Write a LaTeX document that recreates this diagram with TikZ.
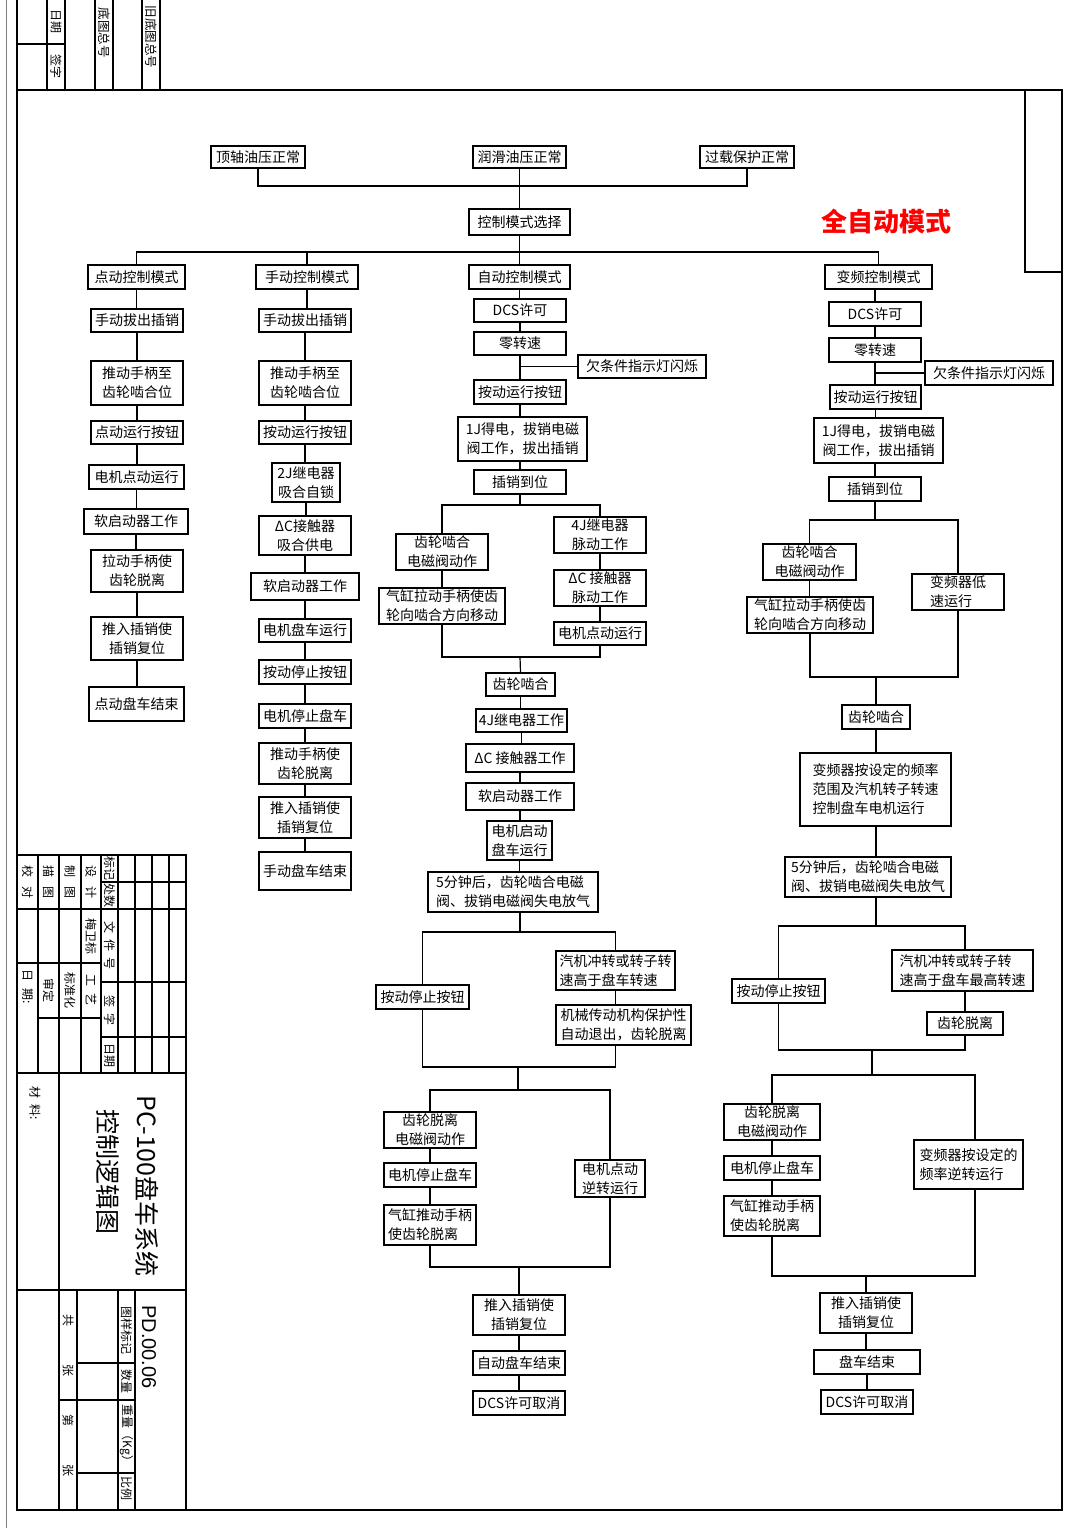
\documentclass[tikz,border=0pt]{standalone}
\usepackage{fontspec}
\setmainfont{Noto Sans CJK SC}
\newfontfamily\lsans{Liberation Sans}
\tikzset{
  box/.style={draw, line width=1.3pt, inner sep=0pt, align=center, font=\fontsize{14}{19}\selectfont},
  ln/.style={line width=1.2pt},
  tb/.style={line width=1.1pt},
  rtxt/.style={rotate=-90, inner sep=0pt, font=\fontsize{12}{13}\selectfont}
}
\newcommand\bx[7][]{\node[box,#1,minimum width={(#5-#3)*1pt},minimum height={(#6-#4)*1pt}] (#2) at ({(#3+#5)/2},{(#4+#6)/2}) {#7};}
\begin{document}
\begin{tikzpicture}[x=1pt,y=-1pt]
\useasboundingbox (0,0) rectangle (1080,1528);
% page frame
\draw[line width=2.5pt] (17,90) rectangle (1062,1510);
\draw[line width=1.5pt] (1025,90) -- (1025,272) -- (1062,272);
\draw[line width=0.6pt, gray] (6,0) -- (6,1528);
% top-left table
\foreach \x in {17,47,65,95,113,142,160} \draw[tb] (\x,0) -- (\x,90);
\draw[tb] (17,44) -- (65,44);
\node[rtxt] (tl1) at (56,22) {日期};
\node[rtxt] (tl2) at (56,67) {签字};
\node[rtxt, font=\fontsize{12.5}{13}\selectfont] (tl3) at (104,33) {底图总号};
\node[rtxt, font=\fontsize{12.5}{13}\selectfont] (tl4) at (151,37) {旧底图总号};
% title block
\draw[line width=1.5pt] (17,855) -- (186,855) -- (186,1510);
\foreach \x in {38,59,81,101,118,135,152,169} \draw[tb] (\x,855) -- (\x,1073);
\draw[tb] (101,882) -- (186,882);
\draw[tb] (17,909) -- (186,909);
\draw[tb] (17,963) -- (101,963);
\draw[tb] (101,982) -- (186,982);
\draw[tb] (38,1018) -- (101,1018);
\draw[tb] (101,1037) -- (186,1037);
\draw[tb] (17,1073) -- (186,1073);
\draw[tb] (59,1073) -- (59,1510);
\draw[tb] (17,1290) -- (186,1290);
\draw[tb] (77,1290) -- (77,1510);
\draw[tb] (118,1290) -- (118,1510);
\draw[tb] (135,1290) -- (135,1510);
\draw[tb] (77,1363) -- (135,1363);
\draw[tb] (59,1400) -- (135,1400);
\draw[tb] (77,1473) -- (135,1473);
\node[rtxt] (k1) at (27.5,882) {校\hspace{0.8em}对};
\node[rtxt] (k2) at (48.5,882) {描\hspace{0.8em}图};
\node[rtxt] (k3) at (70,882) {制\hspace{0.8em}图};
\node[rtxt] (k4) at (91,882) {设\hspace{0.8em}计};
\node[rtxt] (k5) at (109.5,868) {标记};
\node[rtxt] (k6) at (109.5,895) {处数};
\node[rtxt] (k7) at (91,936) {梅卫标};
\node[rtxt] (k8) at (27.5,987) {日\hspace{0.6em}期:};
\node[rtxt] (k9) at (48.5,990) {审定};
\node[rtxt] (k10) at (70,990) {标准化};
\node[rtxt] (k11) at (91,990) {工\hspace{0.6em}艺};
\node[rtxt] (k12) at (109.5,945) {文\hspace{0.5em}件\hspace{0.5em}号};
\node[rtxt] (k13) at (109.5,1010) {签\hspace{0.5em}字};
\node[rtxt] (k14) at (109.5,1055) {日期};
\node[rtxt] (k15) at (35,1103) {材\hspace{0.5em}料:};
\node[rtxt, font=\fontsize{25}{28}\selectfont] (k16) at (147,1186) {PC-100盘车系统};
\node[rtxt, font=\fontsize{25}{28}\selectfont] (k17) at (108,1172) {控制逻辑图};
\node[rtxt, font=\lsans\fontsize{20}{22}\selectfont] (k18) at (149,1347) {PD.00.06};
\node[rtxt] (k19) at (126.5,1330) {图样标记};
\node[rtxt] (k20) at (126.5,1381) {数量};
\node[rtxt] (k21) at (126.5,1436) {重量（Kg）};
\node[rtxt] (k22) at (126.5,1488) {比例};
\node[rtxt] (k23) at (68,1320) {共};
\node[rtxt] (k24) at (68,1370) {张};
\node[rtxt] (k25) at (68,1420) {第};
\node[rtxt] (k26) at (68,1470) {张};
% red title
\node[text=red, font=\bfseries\fontsize{26}{30}\selectfont] (mode) at (886,222) {全自动模式};
% top
\bx{t1}{211}{146}{305}{168}{顶轴油压正常}
\bx{t2}{473}{146}{566}{168}{润滑油压正常}
\bx{t3}{700}{146}{794}{168}{过载保护正常}
\bx{sel}{469}{209}{570}{235}{控制模式选择}
\coordinate (jt) at (519.5,186);
\draw[ln] (t1.south) |- (jt) -| (t3.south);
\draw[ln] (t2.south) -- (sel.north);
\coordinate (jm) at (519.5,252);
% column 1
\bx{c1a}{88}{265}{185}{289}{点动控制模式}
\bx{c1b}{91}{309}{183}{332}{手动拔出插销}
\bx{c1c}{91}{361}{183}{405}{推动手柄至\\齿轮啮合位}
\bx{c1d}{91}{421}{183}{444}{点动运行按钮}
\bx{c1e}{89}{465}{184}{489}{电机点动运行}
\bx{c1f}{84}{509}{188}{534}{软启动器工作}
\bx{c1g}{91}{550}{183}{592}{拉动手柄使\\齿轮脱离}
\bx{c1h}{91}{617}{183}{660}{推入插销使\\插销复位}
\bx{c1i}{89}{687}{184}{721}{点动盘车结束}
% column 2
\bx{c2a}{256}{265}{358}{289}{手动控制模式}
\bx{c2b}{259}{309}{351}{332}{手动拔出插销}
\bx{c2c}{259}{361}{351}{405}{推动手柄至\\齿轮啮合位}
\bx{c2d}{259}{421}{351}{444}{按动运行按钮}
\bx{c2e}{272}{463}{340}{502}{2J继电器\\吸合自锁}
\bx{c2f}{259}{516}{351}{555}{ΔC接触器\\吸合供电}
\bx{c2g}{251}{573}{359}{600}{软启动器工作}
\bx{c2h}{259}{619}{351}{642}{电机盘车运行}
\bx{c2i}{259}{660}{351}{684}{按动停止按钮}
\bx{c2j}{259}{704}{351}{728}{电机停止盘车}
\bx{c2k}{259}{743}{351}{784}{推动手柄使\\齿轮脱离}
\bx{c2l}{259}{797}{351}{838}{推入插销使\\插销复位}
\bx{c2m}{259}{852}{351}{890}{手动盘车结束}
% column 3
\bx{c3a}{469}{265}{570}{289}{自动控制模式}
\bx{a1}{474}{299}{566}{322}{DCS许可}
\bx{a2}{474}{332}{566}{355}{零转速}
\bx{h3}{578}{355}{706}{378}{欠条件指示灯闪烁}
\bx{a3}{474}{380}{566}{404}{按动运行按钮}
\bx{a4}{458}{417}{587}{461}{1J得电，拔销电磁\\阀工作，拔出插销}
\bx{a5}{474}{470}{566}{494}{插销到位}
\bx{l1}{396}{534}{488}{570}{齿轮啮合\\电磁阀动作}
\bx{l2}{379}{588}{505}{624}{气缸拉动手柄使齿\\轮向啮合方向移动}
\bx{r1}{554}{517}{646}{553}{4J继电器\\脉动工作}
\bx{r2}{554}{570}{646}{606}{ΔC 接触器\\脉动工作}
\bx{r3}{554}{622}{646}{645}{电机点动运行}
\bx{g1}{486}{673}{555}{696}{齿轮啮合}
\bx{g2}{476}{709}{567}{732}{4J继电器工作}
\bx{g3}{466}{744}{574}{772}{ΔC 接触器工作}
\bx{g4}{466}{783}{574}{810}{软启动器工作}
\bx{g5}{487}{821}{552}{860}{电机启动\\盘车运行}
\bx[align=left]{g6}{428}{872}{598}{912}{5分钟后，齿轮啮合电磁\\阀、拔销电磁阀失电放气}
\bx{p1}{376}{985}{469}{1009}{按动停止按钮}
\bx[align=left]{q1}{556}{951}{675}{990}{汽机冲转或转子转\\速高于盘车转速}
\bx{q2}{556}{1005}{691}{1045}{机械传动机构保护性\\自动退出，齿轮脱离}
\bx{v1}{384}{1112}{476}{1148}{齿轮脱离\\电磁阀动作}
\bx{v2}{384}{1163}{476}{1187}{电机停止盘车}
\bx[align=left]{v3}{384}{1205}{476}{1245}{气缸推动手柄\\使齿轮脱离}
\bx{w1}{575}{1160}{645}{1197}{电机点动\\逆转运行}
\bx{e1}{473}{1295}{565}{1335}{推入插销使\\插销复位}
\bx{e2}{473}{1351}{565}{1375}{自动盘车结束}
\bx{e3}{473}{1391}{565}{1415}{DCS许可取消}
% column 4
\bx{c4a}{825}{265}{932}{289}{变频控制模式}
\bx{f1}{829}{302}{921}{326}{DCS许可}
\bx{f2}{829}{338}{921}{362}{零转速}
\bx{h4}{925}{361}{1053}{385}{欠条件指示灯闪烁}
\bx{f3}{830}{385}{921}{409}{按动运行按钮}
\bx{f4}{814}{418}{943}{463}{1J得电，拔销电磁\\阀工作，拔出插销}
\bx{f5}{829}{477}{921}{501}{插销到位}
\bx{x1}{763}{544}{856}{580}{齿轮啮合\\电磁阀动作}
\bx{x2}{747}{597}{873}{633}{气缸拉动手柄使齿\\轮向啮合方向移动}
\bx[align=left]{y1}{912}{574}{1004}{610}{变频器低\\速运行}
\bx{n1}{842}{705}{910}{729}{齿轮啮合}
\bx[align=left]{n2}{800}{753}{951}{826}{变频器按设定的频率\\范围及汽机转子转速\\控制盘车电机运行}
\bx[align=left]{n3}{785}{857}{951}{897}{5分钟后，齿轮啮合电磁\\阀、拔销电磁阀失电放气}
\bx{p4}{732}{979}{825}{1003}{按动停止按钮}
\bx[align=left]{q4}{892}{950}{1033}{991}{汽机冲转或转子转\\速高于盘车最高转速}
\bx{q5}{927}{1012}{1003}{1035}{齿轮脱离}
\bx{v4}{724}{1104}{820}{1140}{齿轮脱离\\电磁阀动作}
\bx{v5}{724}{1156}{820}{1180}{电机停止盘车}
\bx[align=left]{v6}{724}{1196}{820}{1236}{气缸推动手柄\\使齿轮脱离}
\bx[align=left]{w4}{914}{1140}{1023}{1189}{变频器按设定的\\频率逆转运行}
\bx{e4}{820}{1293}{912}{1333}{推入插销使\\插销复位}
\bx{e5}{814}{1350}{920}{1374}{盘车结束}
\bx{e6}{821}{1390}{913}{1414}{DCS许可取消}
% mode bus
\draw[ln] (sel.south) -- (c3a.north);
\draw[ln] (c1a.north) |- (jm) -| (c4a.north);
\draw[ln] (c2a.north) -- (c2a.north |- jm);
% chains
\foreach \a/\b in {c1a/c1b,c1b/c1c,c1c/c1d,c1d/c1e,c1e/c1f,c1f/c1g,c1g/c1h,c1h/c1i,
  c2a/c2b,c2b/c2c,c2c/c2d,c2d/c2e,c2e/c2f,c2f/c2g,c2g/c2h,c2h/c2i,c2i/c2j,c2j/c2k,c2k/c2l,c2l/c2m,
  c3a/a1,a1/a2,a2/a3,a3/a4,l1/l2,r1/r2,r2/r3,g1/g2,g2/g3,g3/g4,g4/g5,g5/g6,q1/q2,v1/v2,v2/v3,e1/e2,e2/e3,
  f1/f2,f2/f3,x1/x2,n1/n2,v4/v5,v5/v6,e4/e5,e5/e6}
  \draw[ln] (\a.south) -- (\a.south |- \b.north);
\draw[ln] (c4a.south -| f1.north) -- (f1.north);
\draw[ln] (f3.south) -- (f3.south |- f4.north);
\draw[ln] (a5.north |- a4.south) -- (a5.north);
\draw[ln] (f5.north |- f4.south) -- (f5.north);
\draw[ln] (n1.north |- n2.south) -- (n1.north |- n3.north);
\draw[ln] (h3.west) -- (h3.west -| a2.south);
\draw[ln] (h4.west) -- (h4.west -| f2.south);
% column 3 branches
\coordinate (b3) at (520,505);
\draw[ln] (a5.south) -- (a5.south |- b3);
\draw[ln] (l1.north) |- (b3) -| (r1.north);
\coordinate (j3) at (520,657);
\draw[ln] (l2.south) |- (j3) -| (r3.south);
\draw[ln] (j3) -- (g1.north);
\coordinate (s3) at (520,932);
\draw[ln] (g6.south -| s3) -- (s3);
\draw[ln] (p1.north) |- (s3) -| (q1.north -| q1.south);
\coordinate (k3) at (518,1067);
\draw[ln] (p1.south) |- (k3);
\draw[ln] (q1.south |- q2.south) |- (k3);
\coordinate (u3) at (518,1090);
\draw[ln] (k3) -- (u3);
\draw[ln] (v1.north) |- (u3) -| (w1.north);
\coordinate (z3) at (519,1267);
\draw[ln] (v3.south) |- (z3) -| (w1.south);
\draw[ln] (z3) -- (e1.north);
% column 4 branches
\coordinate (b4) at (876,520);
\draw[ln] (f5.south) -- (f5.south |- b4);
\draw[ln] (x1.north) |- (b4) -| (y1.north);
\coordinate (j4) at (876,677);
\draw[ln] (x2.south) |- (j4) -| (y1.south);
\draw[ln] (j4) -- (j4 |- n1.north);
\coordinate (s4) at (876,926);
\draw[ln] (n3.south -| s4) -- (s4);
\draw[ln] (p4.north) |- (s4) -| (q4.north -| q5.north);
\draw[ln] (q4.south -| q5.north) -- (q5.north);
\coordinate (k4) at (872,1050);
\draw[ln] (p4.south) |- (k4);
\draw[ln] (q5.south) |- (k4);
\coordinate (u4) at (872,1075);
\draw[ln] (k4) -- (u4);
\draw[ln] (v4.north) |- (u4) -| ([xshift=6.5pt]w4.north);
\coordinate (z4) at (866,1276);
\draw[ln] (v6.south) |- (z4) -| ([xshift=6.5pt]w4.south);
\draw[ln] (z4) -- (e4.north);
\end{tikzpicture}
\end{document}
